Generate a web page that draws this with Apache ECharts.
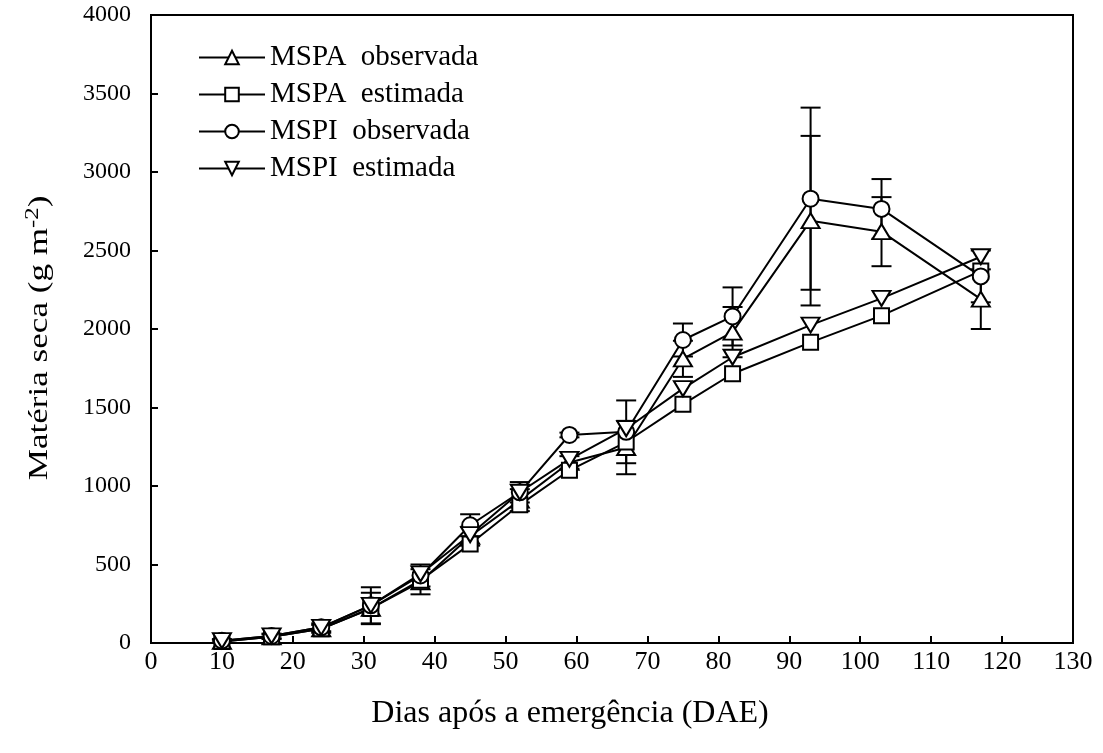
<!DOCTYPE html>
<html>
<head>
<meta charset="utf-8">
<script src="https://cdn.jsdelivr.net/npm/echarts@6/dist/echarts.min.js"></script>
<style>
  html, body { margin: 0; padding: 0; background: #fff; }
  #chart { width: 1103px; height: 753px; }
</style>
</head>
<body>
<div id="chart"></div>
<script>
// Days after emergence (DAE)
const dias = [10, 17, 24, 31, 38, 45, 52, 59, 67, 75, 82, 93, 103, 117];

// Dry matter (g m-2)
const mspaObservada = [10, 40, 90, 220, 390, 680, 910, 1150, 1245, 1810, 1980, 2690, 2620, 2190];
const mspaEstimada  = [10, 40, 90, 220, 400, 630, 880, 1100, 1280, 1520, 1715, 1915, 2085, 2370];
const mspiObservada = [15, 45, 100, 240, 430, 750, 960, 1325, 1345, 1930, 2080, 2830, 2765, 2335];
const mspiEstimada  = [15, 45, 100, 240, 440, 690, 960, 1170, 1365, 1620, 1820, 2025, 2195, 2460];

// Standard deviations of the observed series
const erroMspa = [10, 15, 25, 100, 80, 60, 70, 40, 170, 115, 160, 540, 220, 190];
const erroMspi = [10, 15, 25, 115, 70, 70, 65, 15, 200, 105, 185, 580, 190, 165];

const xTicks = { min: 0, max: 130, step: 10 };
const yTicks = { min: 0, max: 4000, step: 500 };

const legendNames = ['MSPA  observada', 'MSPA  estimada', 'MSPI  observada', 'MSPI  estimada'];
const xTitle = 'Dias após a emergência (DAE)';

const FONT = 'Liberation Serif';

function pares(valores) {
  return dias.map((d, i) => [d, valores[i]]);
}
function paresErro(valores, erros) {
  return dias.map((d, i) => [d, valores[i], erros[i]]);
}

const triDown = 'path://M0,0 L20,0 L10,16 Z';
const triUp = 'path://M10,0 L20,16 L0,16 Z';

const markerStyle = { color: '#fff', borderColor: '#000', borderWidth: 2 };
const lineStyle = { color: '#000', width: 2 };

function serie(nome, valores, simbolo, tamanho) {
  return {
    name: nome,
    type: 'line',
    data: pares(valores),
    symbol: simbolo,
    symbolSize: tamanho,
    showAllSymbol: true,
    lineStyle: lineStyle,
    itemStyle: markerStyle,
    z: 5
  };
}

function barrasErro(nome, valores, erros) {
  return {
    name: nome + ' erro',
    type: 'custom',
    data: paresErro(valores, erros),
    z: 3,
    silent: true,
    renderItem: function (params, api) {
      const x = api.value(0), y = api.value(1), e = api.value(2);
      const top = api.coord([x, y + e]);
      const bot = api.coord([x, y - e]);
      const hw = 10;
      const st = { stroke: '#000', lineWidth: 2 };
      return {
        type: 'group',
        children: [
          { type: 'line', shape: { x1: top[0], y1: top[1], x2: bot[0], y2: bot[1] }, style: st },
          { type: 'line', shape: { x1: top[0] - hw, y1: top[1], x2: top[0] + hw, y2: top[1] }, style: st },
          { type: 'line', shape: { x1: bot[0] - hw, y1: bot[1], x2: bot[0] + hw, y2: bot[1] }, style: st }
        ]
      };
    }
  };
}

const chart = echarts.init(document.getElementById('chart'), null, { renderer: 'canvas' });

chart.setOption({
  backgroundColor: '#fff',
  animation: false,
  textStyle: { fontFamily: FONT, color: '#000' },
  grid: {
    left: 151, right: 30, top: 15, bottom: 110,
    show: true, borderColor: '#000', borderWidth: 2, backgroundColor: 'transparent'
  },
  legend: {
    left: 193, top: 38,
    orient: 'vertical',
    itemWidth: 66, itemHeight: 17, itemGap: 8,
    textStyle: { fontFamily: FONT, fontSize: 29, lineHeight: 29, color: '#000' },
    data: legendNames,
    selectedMode: false
  },
  graphic: [
    {
      type: 'text',
      x: 570, y: 714,
      silent: true,
      style: {
        text: xTitle,
        fontFamily: FONT, fontSize: 32, fill: '#000',
        align: 'center', verticalAlign: 'middle'
      }
    },
    {
      type: 'text',
      x: 40, y: 338,
      rotation: Math.PI / 2,
      scaleX: 1.3,
      silent: true,
      style: {
        text: '{n|Matéria seca (g m}{s|-2}{n|)}',
        fill: '#000',
        align: 'center', verticalAlign: 'middle',
        rich: {
          n: { fontFamily: FONT, fontSize: 27, fill: '#000' },
          s: { fontFamily: FONT, fontSize: 19, fill: '#000', verticalAlign: 'top', padding: [0, 0, 14, 0] }
        }
      }
    }
  ],
  xAxis: {
    type: 'value',
    min: xTicks.min, max: xTicks.max, interval: xTicks.step,
    axisLine: { lineStyle: { color: '#000', width: 2 } },
    axisTick: { inside: true, length: 7, lineStyle: { color: '#000', width: 2 } },
    axisLabel: { fontFamily: FONT, fontSize: 26, color: '#000', margin: 6 },
    splitLine: { show: false }
  },
  yAxis: {
    type: 'value',
    min: yTicks.min, max: yTicks.max, interval: yTicks.step,
    axisLine: { lineStyle: { color: '#000', width: 2 } },
    axisTick: { inside: true, length: 7, lineStyle: { color: '#000', width: 2 } },
    axisLabel: { fontFamily: FONT, fontSize: 24, color: '#000', margin: 20, formatter: v => String(v) },
    splitLine: { show: false }
  },
  series: [
    barrasErro('MSPA  observada', mspaObservada, erroMspa),
    barrasErro('MSPI  observada', mspiObservada, erroMspi),
    serie('MSPA  observada', mspaObservada, triUp, [18, 15]),
    serie('MSPA  estimada', mspaEstimada, 'rect', 15),
    serie('MSPI  observada', mspiObservada, 'circle', 16),
    serie('MSPI  estimada', mspiEstimada, triDown, [18, 15])
  ]
});
</script>
</body>
</html>
